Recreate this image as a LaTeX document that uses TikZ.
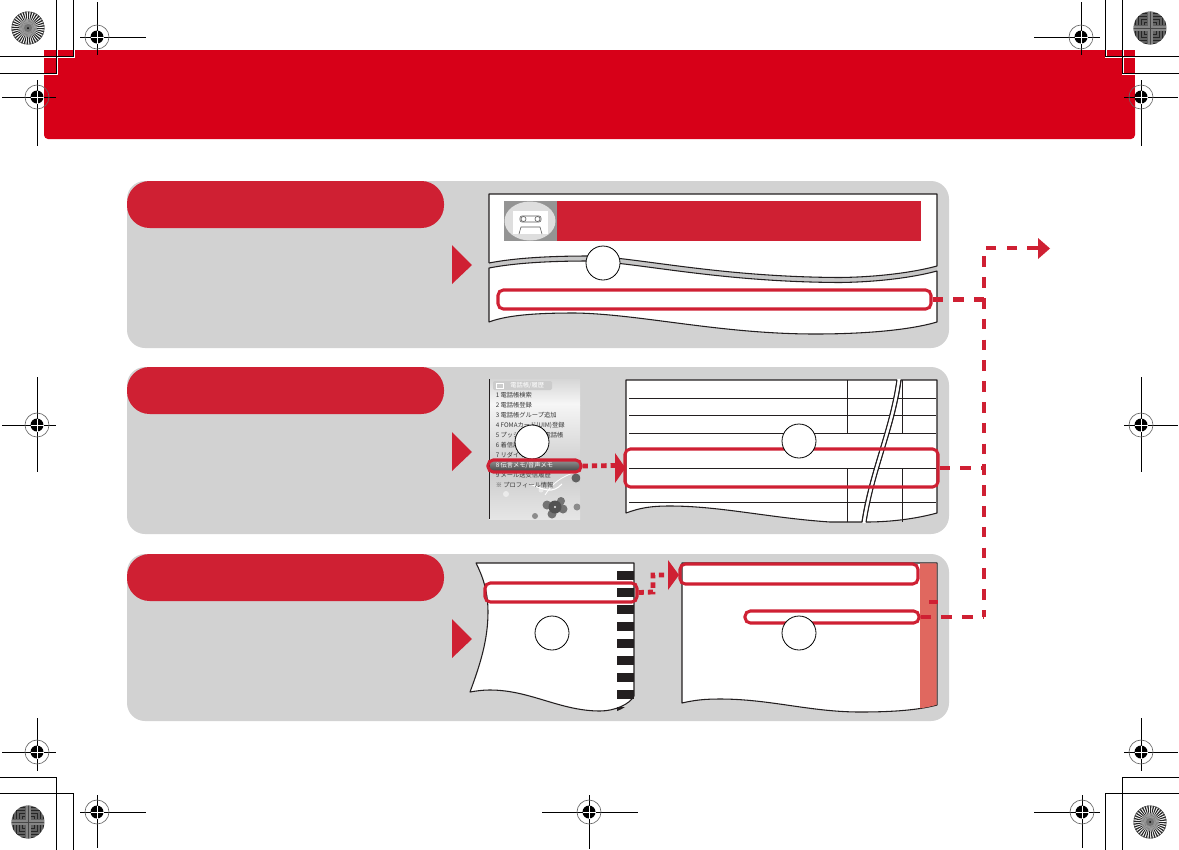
\documentclass[tikz,border=0pt]{standalone}
\usepackage{fontspec}
\newfontfamily\cjk{Noto Sans CJK JP}
\usetikzlibrary{fit}
\definecolor{bandred}{HTML}{D70018}
\definecolor{accent}{HTML}{CF2033}
\definecolor{panelgrey}{HTML}{D2D2D2}
\definecolor{stripred}{HTML}{E0685F}
\definecolor{inkblack}{HTML}{231F20}
\tikzset{
  panelbox/.style={fill=panelgrey,draw=none,inner sep=0pt,rounded corners=13.5pt},
  pillbox/.style={fill=accent,draw=none,inner sep=0pt,rounded corners=17pt},
  hlbox/.style={draw=accent,line width=2.3pt,inner sep=0pt,rounded corners=4pt},
  numcircle/.style={circle,draw=black,fill=white,line width=.6pt,inner sep=0pt,minimum size=25.5pt},
  sheet/.style={fill=white,draw=inkblack,line width=.8pt,line join=round},
  longdash/.style={draw=accent,line width=3.6pt,dash pattern=on 8pt off 7.6pt},
  shortdash/.style={draw=accent,line width=3.6pt,dash pattern=on 4pt off 3pt},
  pointer/.style={fill=accent,draw=none},
  rule/.style={draw=inkblack,line width=.7pt},
  cropline/.style={draw=black,line width=.75pt},
  crophalo/.style={draw=white,line width=2.2pt},
  menuitem/.style={inner sep=0pt,anchor=west,text=black!78,font=\cjk\fontsize{4.7pt}{5pt}\selectfont},
  menuhead/.style={inner sep=0pt,anchor=west,text=white,font=\cjk\fontsize{4.7pt}{5pt}\selectfont},
}
\newcommand{\regmark}[6]{%
  \draw[black,line width=.75pt] (#3,#2) -- (#4,#2) (#1,#5) -- (#1,#6);
  \draw[black!60,line width=.5pt] (#1,#2) circle[radius=12];
  \fill[black] (#1,#2) circle[radius=6.5];
  \draw[white,line width=.6pt] (#1-6.5,#2) -- (#1+6.5,#2) (#1,#2-6.5) -- (#1,#2+6.5);
}
\newcommand{\spokestar}[2]{%
  \begin{scope}[shift={(#1,#2)}]
    \fill[white] (0,0) circle[radius=16.5];
    \foreach \a in {0,10,...,350}{
      \fill[black!85] (0,0) -- (\a:16.5) arc[start angle=\a,end angle=\a+5,radius=16.5] -- cycle;
    }
    \draw[black!70,line width=.4pt] (0,0) circle[radius=16.2];
    \fill[black!40,opacity=.75] (0,0) circle[radius=9];
    \fill[black!55] (0,0) circle[radius=4];
    \fill[black] (0,0) circle[radius=1];
  \end{scope}
}
\newcommand{\moirestar}[2]{%
  \begin{scope}[shift={(#1,#2)}]
    \fill[black!62] (0,0) circle[radius=16.5];
    \clip (0,0) circle[radius=16.5];
    \fill[black!48] (-17,-2.5) rectangle (17,2.5);
    \fill[black!48] (-2.5,-17) rectangle (2.5,17);
    \foreach \sx/\sy in {-1/-1,1/-1,-1/1,1/1}{
      \foreach \r in {6,9,12,15}{
        \draw[black!85,line width=.6pt] (\sx*17,\sy*3) arc[start angle=0,end angle=0,radius=1];
        \draw[black!85,line width=.6pt] (\sx*3,\sy*\r) -- (\sx*\r,\sy*\r) -- (\sx*\r,\sy*3);
      }
    }
    \draw[black!72,line width=.35pt] (-17,0) -- (17,0) (0,-17) -- (0,17);
  \end{scope}
}
\begin{document}
\begin{tikzpicture}[x=.75pt,y=-.75pt]
\useasboundingbox (0,0) rectangle (1179,850);
\fill[white] (0,0) rectangle (1179,850);

% title band
\fill[bandred,rounded corners=3pt] (44,90) rectangle (1135,139);
\fill[bandred] (44,50) rectangle (1135,110);

% crop halos and lines
\draw[crophalo] (0,57) -| (74,0);
\draw[crophalo] (0,74) -| (57,0);
\draw[crophalo] (1179,57) -| (1106,0);
\draw[crophalo] (1179,74) -| (1123,0);
\draw[cropline] (0,56) -| (73,0);
\draw[cropline] (0,73) -| (56,0);
\draw[cropline] (1179,56) -| (1105,0);
\draw[cropline] (1179,73) -| (1122,0);
\draw[cropline] (0,777) -| (56,850);
\draw[cropline] (0,793) -| (73,850);
\draw[cropline] (1179,777) -| (1122,850);
\draw[cropline] (1179,793) -| (1105,850);

% registration marks
\regmark{97}{37}{80}{146}{2}{55}
\regmark{1081}{37}{1034}{1100}{2}{55}
\regmark{37}{97}{2}{56}{80}{146}
\regmark{1141}{97}{1124}{1178}{80}{146}
\regmark{37}{425}{2}{56}{377}{472}
\regmark{1141}{425}{1124}{1178}{377}{472}
\regmark{37}{752}{2}{56}{718}{771}
\regmark{1141}{752}{1124}{1178}{718}{771}
\regmark{97}{812}{80}{146}{795}{848}
\regmark{589}{812}{542}{638}{795}{849}
\regmark{1082}{812}{1034}{1100}{795}{848}

% colour targets
\spokestar{28}{28}
\moirestar{1150}{28}
\moirestar{28}{822}
\spokestar{1150}{822}

% panels
\node[panelbox,fit={(127,181)(949,348)}] (panelA) {};
\node[panelbox,fit={(127,367)(949,534)}] (panelB) {};
\node[panelbox,fit={(127,554)(949,721)}] (panelC) {};
\node[pillbox,fit={(127,181)(444,228)}] (pillA) {};
\node[pillbox,fit={(127,367)(444,414)}] (pillB) {};
\node[pillbox,fit={(127,554)(444,601)}] (pillC) {};

% big step arrows
\fill[pointer] (452,245) -- (472,265) -- (452,284) -- cycle;
\fill[pointer] (452,432) -- (472,452) -- (452,471) -- cycle;
\fill[pointer] (452,619) -- (472,639) -- (452,658) -- cycle;

%---------- panel A screen
\path[fill=black!22] (489,263) .. controls (520,257) and (560,256) .. (590,256)
   .. controls (640,258) and (720,277) .. (840,277.5)
   .. controls (880,277) and (915,272) .. (937,266)
   -- (937,271) .. controls (915,277) and (880,282) .. (840,282.5)
   .. controls (720,282) and (640,263) .. (590,261)
   .. controls (560,261) and (520,262) .. (489,268) -- cycle;
\draw[sheet,fill=white] (489,263) -- (489,194) -- (937,194) -- (937,266)
   .. controls (915,272) and (880,277) .. (840,277.5)
   .. controls (720,277) and (640,258) .. (590,256)
   .. controls (560,256) and (520,257) .. (489,263);
\draw[sheet,fill=white] (489,268) .. controls (520,262) and (560,261) .. (590,261)
   .. controls (640,263) and (720,282) .. (840,282.5)
   .. controls (880,282) and (915,277) .. (937,271)
   -- (937,322) .. controls (910,330) and (865,334) .. (815,334)
   .. controls (720,334) and (640,314) .. (575,313)
   .. controls (545,313) and (510,314) .. (489,322) -- cycle;
% icon and title strip
\fill[black!42] (504,201) rectangle (557,241);
\fill[black!13] (530,221) ellipse[x radius=25.5,y radius=19.5];
\fill[white] (513,210.5) rectangle (548,234);
\draw[black!65,line width=.45pt] (519,234) -- (521,227) -- (540,227) -- (542,234);
\draw[black!65,line width=.45pt,rounded corners=1.5pt] (520,216) rectangle (541,222);
\draw[black!65,line width=.45pt] (523.5,219) circle[radius=2.5] (537.5,219) circle[radius=2.5];
\fill[accent] (557,201) rectangle (921,241);
\node[numcircle] (numA) at (603,263) {};
\node[hlbox,fit={(498,290)(931,309)}] (boxA) {};

%---------- panel B phone screen
\begin{scope}
  \clip (489,379) rectangle (580,519);
  \shade[top color=black!16,bottom color=black!3] (489,379) rectangle (580,405);
  \shade[top color=black!4,bottom color=black!20] (489,405) rectangle (580,470);
  \shade[top color=black!20,bottom color=black!10] (489,470) rectangle (580,519);
  \fill[black!55] (547,505) circle[radius=4.5] (563,509) circle[radius=4.5] (552,514) circle[radius=4.5] (561,501) circle[radius=4];
  \fill[black!68] (555,507) circle[radius=6.5];
  \fill[black!62] (576,478) circle[radius=4.5];
  \fill[black!45] (577,507) circle[radius=3.5];
  \fill[black!45] (535,516) circle[radius=3];
  \fill[white,opacity=.9] (555,507) circle[radius=1.2];
  \fill[white,opacity=.5] (506,494) circle[radius=3] (541,490) circle[radius=2.5];
  \draw[white,line width=.8pt] (530,484) .. controls (545,490) and (552,494) .. (562,484);
  \draw[white,line width=.6pt] (545,495) .. controls (556,478) and (566,476) .. (580,470);
  \fill[black!20,rounded corners=1pt] (493,381) rectangle (552,390);
\end{scope}
\draw[inkblack,line width=.7pt] (489,379) -- (489,519);
\node[menuhead] (m0) at (510,385.5) {電話帳/履歴};
\draw[white,line width=.4pt] (496,383) rectangle (503,388);
\node[menuitem] (m1) at (495.5,395) {1 電話帳検索};
\node[menuitem] (m2) at (495.5,405) {2 電話帳登録};
\node[menuitem] (m3) at (495.5,415) {3 電話帳グループ追加};
\node[menuitem] (m4) at (495.5,425) {4 FOMAカード(UIM)登録};
\node[menuitem] (m5) at (495.5,435) {5 プッシュトーク電話帳};
\node[menuitem] (m6) at (495.5,445) {6 着信履歴};
\node[menuitem] (m7) at (495.5,455) {7 リダイヤル};
\shade[top color=black!45,bottom color=black!70] (490,461) rectangle (580,470);
\node[menuitem,text=white] (m8) at (495.5,465.5) {8 伝言メモ/音声メモ};
\node[menuitem] (m9) at (495.5,475) {9 メール送受信履歴};
\node[menuitem] (m10) at (495.5,485) {※ プロフィール情報};
\node[numcircle] (numB) at (532,442) {};
\node[hlbox,fit={(488,460)(581,472)}] (boxB) {};

%---------- panel B table
\draw[sheet] (626,513) -- (626,380) -- (897,380)
   .. controls (890,430) and (870,470) .. (862,522)
   -- (830,522) .. controls (770,518) and (720,506) .. (670,506)
   .. controls (650,506) and (640,508) .. (626,513) -- cycle;
\draw[sheet] (901,380) -- (937,380) -- (937,513) .. controls (915,519) and (890,522) .. (866,522)
   .. controls (874,470) and (894,430) .. (901,380) -- cycle;
\foreach \yy in {398,415,433,468,502.5}{
  \draw[rule] (629,\yy) -- (892,\yy);
  \draw[rule] (885,\yy) -- (936,\yy);
}
\foreach \xx in {847,902}{
  \draw[rule] (\xx,380) -- (\xx,433);
  \draw[rule] (\xx,468) -- (\xx,522);
}
% restore the tear over the rules
\fill[white] (897.5,378.9) .. controls (890.5,430) and (870.5,470) .. (862.5,523)
   -- (865.5,523) .. controls (873.5,470) and (893.5,430) .. (900.5,378.9) -- cycle;
\draw[inkblack,line width=.7pt] (897,380) .. controls (890,430) and (870,470) .. (862,522);
\draw[inkblack,line width=.7pt] (901,380) .. controls (894,430) and (874,470) .. (866,522);
\node[hlbox,fit={(625,449)(938,487)}] (boxC) {};
\node[numcircle] (numC) at (799,441) {};

%---------- panel C left page
\draw[sheet] (476,563) -- (634,563) -- (634,696) .. controls (630,704) and (615,711) .. (600,711)
   .. controls (560,711) and (530,690) .. (490,690)
   .. controls (482,690) and (476,691) .. (470,692)
   .. controls (480,665) and (488,640) .. (488,612)
   .. controls (488,590) and (482,575) .. (476,563) -- cycle;
\foreach \yy in {571,588,605,622,639,656,673,690}{
  \fill[inkblack] (617,\yy) rectangle (634,\yy+9);
}
\fill[inkblack] (617,707) -- (625,707) .. controls (622,709) and (620,710) .. (617,711) -- cycle;
\node[hlbox,fit={(485,583)(637,602)}] (boxD) {};
\node[numcircle] (numD) at (552,633) {};

%---------- panel C right page
\draw[sheet] (682,703) -- (682,563) -- (937,563) -- (937,705)
   .. controls (915,711) and (885,712) .. (860,712)
   .. controls (810,712) and (770,699) .. (720,699)
   .. controls (705,699) and (695,700) .. (682,703) -- cycle;
\path[fill=stripred] (920,563.4) -- (936.6,563.4) -- (936.6,704.8) .. controls (931,706.5) and (926,707.5) .. (920,708.3) -- cycle;
\node[hlbox,fit={(680,564)(918,584)}] (boxE) {};
\node[hlbox,fit={(745,611)(919,623)}] (boxF) {};
\node[numcircle] (numE) at (799,633) {};

%---------- connectors
\coordinate (trunkTop) at (984,248);
\coordinate (trunkEnd) at (984,617);
\coordinate (exitTip) at (1038,248);
\draw[longdash] (exitTip) -- (trunkTop) -- (trunkEnd);
\fill[pointer] (1038,238) -- (1050,248.5) -- (1038,259) -- cycle;
\draw[longdash] (boxA.east) -- (boxA.east -| trunkTop);
\draw[longdash] (boxC.east) -- (boxC.east -| trunkTop);
\draw[longdash] (boxF.east) -- (boxF.east -| trunkTop);
\coordinate (strip) at (929,602);
\coordinate (stripEnd) at (938,602);
\draw[accent,line width=3.6pt] (strip) -- (stripEnd);

\coordinate (hopB) at (615,465.5);
\draw[shortdash] (boxB.east) -- (hopB);
\fill[pointer] (615,453) -- (625.5,468) -- (615,483) -- cycle;

\coordinate (hopD1) at (653,592);
\coordinate (hopD2) at (653,575);
\coordinate (hopD3) at (668,575);
\draw[shortdash] (boxD.east) -- (hopD1) -- (hopD2) -- (hopD3);
\fill[pointer] (668,560) -- (679,575) -- (668,590) -- cycle;
\end{tikzpicture}
\end{document}
